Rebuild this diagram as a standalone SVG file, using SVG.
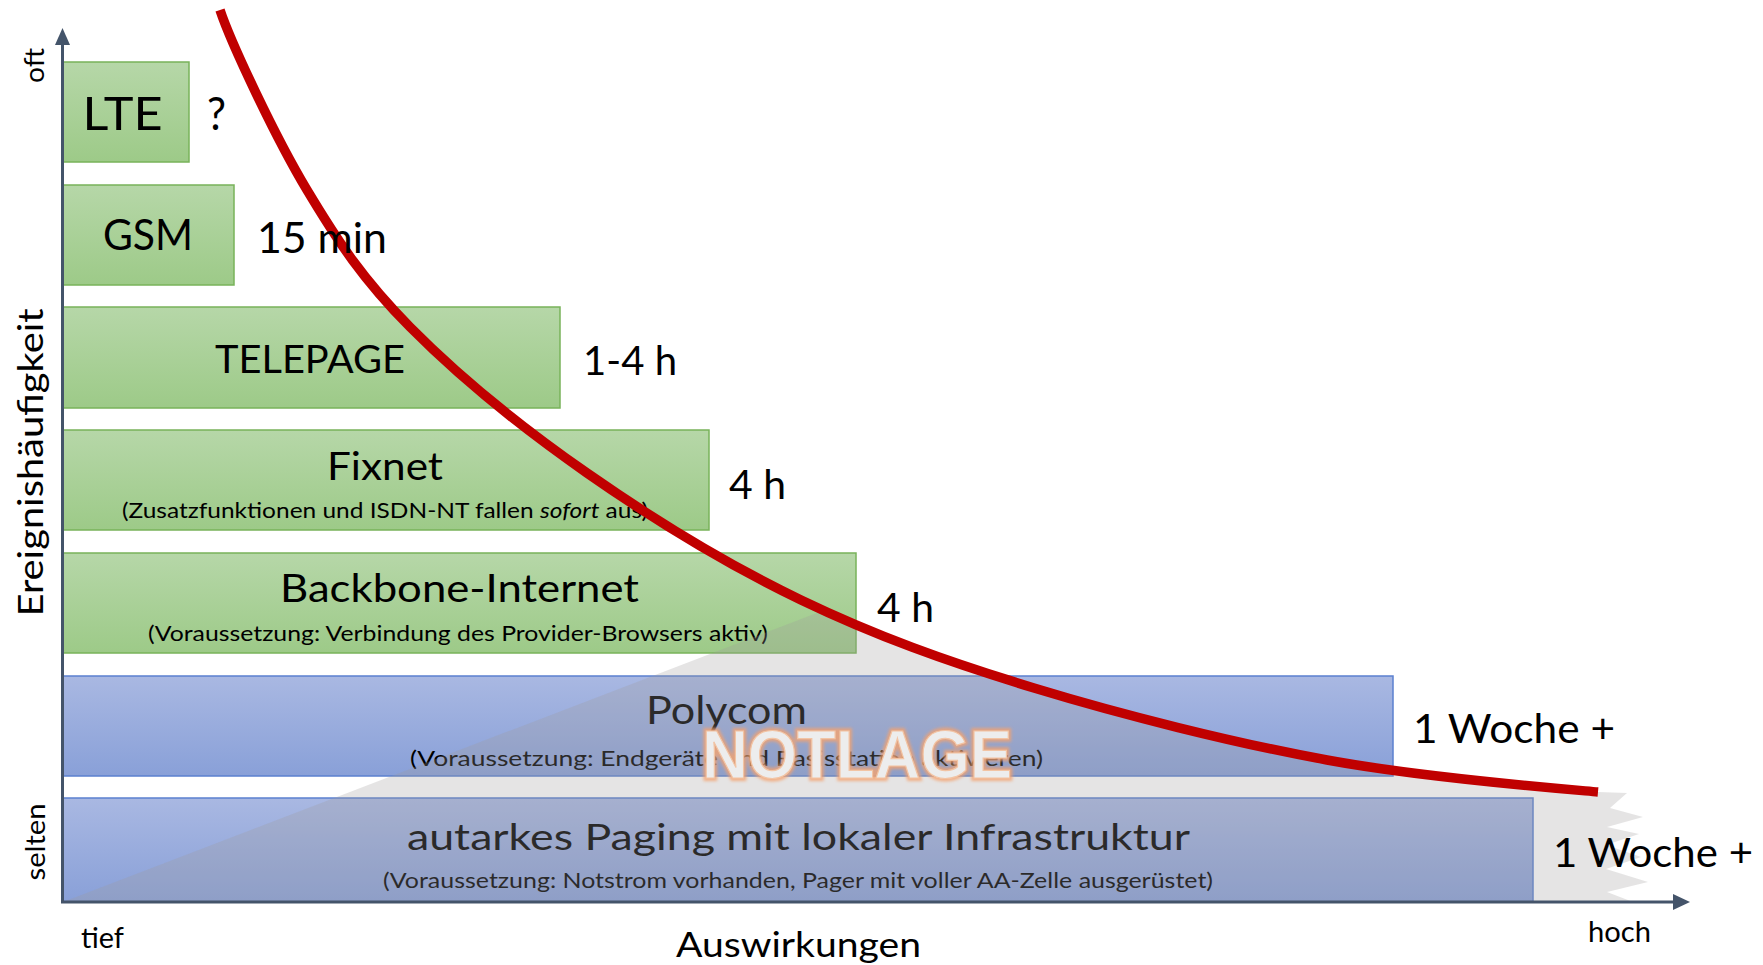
<svg xmlns="http://www.w3.org/2000/svg" width="1763" height="965" viewBox="0 0 1763 965">
<defs>
<linearGradient id="gGreen" x1="0" y1="0" x2="0" y2="1">
<stop offset="0" stop-color="#b6d7a8"/>
<stop offset="1" stop-color="#9dca88"/>
</linearGradient>
<linearGradient id="gBlue" x1="0" y1="0" x2="0" y2="1">
<stop offset="0" stop-color="#a9b8e2"/>
<stop offset="1" stop-color="#89a0d8"/>
</linearGradient>
<filter id="glow" x="-10%" y="-30%" width="120%" height="160%">
<feGaussianBlur stdDeviation="1.8"/>
</filter>
<style>
.bg{fill:url(#gGreen);stroke:#78b35a;stroke-width:1.5}
.bb{fill:url(#gBlue);stroke:#5b80cf;stroke-width:1.5}
.t{font-family:Lato,"Open Sans","Noto Sans",sans-serif;fill:#000}
.big{font-size:39px}
.sub{font-size:22px}
.time{font-size:41px}
.axl{font-size:27px}
.ax{stroke:#44546a;stroke-width:3;fill:none}
.axh{fill:#44546a}
.nl{font-family:"Liberation Sans",Arial,sans-serif;font-weight:bold;font-size:68px}
.nlglow{fill:none;stroke:#f4a36f;stroke-width:6;opacity:0.8}
.nlmain{fill:#ededed;stroke:#f2c4a4;stroke-width:1.2}
</style>
</defs>
<rect width="1763" height="965" fill="#ffffff"/>

<g id="node-lte">
<rect class="bg" x="63" y="62" width="126" height="100"/>
<text class="t" x="82.5" y="130" font-size="46" textLength="80" lengthAdjust="spacingAndGlyphs">LTE</text>
</g>
<g id="node-gsm">
<rect class="bg" x="63" y="185" width="171" height="100"/>
<text class="t" x="103" y="250" font-size="42" textLength="90" lengthAdjust="spacingAndGlyphs">GSM</text>
</g>
<g id="node-telepage">
<rect class="bg" x="63" y="307" width="497" height="101"/>
<text class="t big" x="215" y="373" textLength="190" lengthAdjust="spacingAndGlyphs">TELEPAGE</text>
</g>
<g id="node-fixnet">
<rect class="bg" x="63" y="430" width="646" height="100"/>
<text class="t big" x="327" y="480" textLength="116" lengthAdjust="spacingAndGlyphs">Fixnet</text>
<text class="t sub" x="122" y="518" textLength="526" lengthAdjust="spacingAndGlyphs">(Zusatzfunktionen und ISDN-NT fallen <tspan font-style="italic">sofort</tspan> aus)</text>
</g>
<g id="node-backbone">
<rect class="bg" x="63" y="553" width="793" height="100"/>
<text class="t big" x="280" y="602" textLength="359" lengthAdjust="spacingAndGlyphs">Backbone-Internet</text>
<text class="t sub" x="148" y="641" textLength="620" lengthAdjust="spacingAndGlyphs">(Voraussetzung: Verbindung des Provider-Browsers aktiv)</text>
</g>
<g id="node-polycom">
<rect class="bb" x="63" y="676" width="1330" height="100"/>
<text class="t" x="646" y="724" font-size="38" textLength="161" lengthAdjust="spacingAndGlyphs">Polycom</text>
<text class="t sub" x="410" y="766" textLength="633" lengthAdjust="spacingAndGlyphs">(Voraussetzung: Endgeräte und Basisstation aktivieren)</text>
</g>
<g id="node-autark">
<rect class="bb" x="63" y="798" width="1470" height="104"/>
<text class="t" x="407" y="850" font-size="36" textLength="783" lengthAdjust="spacingAndGlyphs">autarkes Paging mit lokaler Infrastruktur</text>
<text class="t sub" x="383" y="888" textLength="830" lengthAdjust="spacingAndGlyphs">(Voraussetzung: Notstrom vorhanden, Pager mit voller AA-Zelle ausgerüstet)</text>
</g>

<g id="notlage-zone">
<path d="M63,902 L823.3,610.5 C889.8,640.9 955.1,664 1034,688 C1121.7,714.7 1233,742.7 1327,760 C1421,777.3 1553,788 1598,792 L1627,793 L1610,808 L1643,817 L1607,827 L1639,834 L1606,845 L1641,857 L1606,869 L1648,882 L1607,892 L1633,902 Z" fill="#9f9d9d" fill-opacity="0.27"/>
<text class="nl nlglow" x="702" y="778" textLength="310" lengthAdjust="spacingAndGlyphs" filter="url(#glow)">NOTLAGE</text>
<text class="nl nlmain" x="702" y="778" textLength="310" lengthAdjust="spacingAndGlyphs">NOTLAGE</text>
</g>

<g id="connectors">
<path d="M220,10 C231,43 275.3,137.2 307,190 C338.7,242.8 363.3,279.8 410,327 C456.7,374.2 521.8,427.5 587,473 C652.2,518.5 726.5,564.2 801,600 C875.5,635.8 946.3,661.3 1034,688 C1121.7,714.7 1233,742.7 1327,760 C1421,777.3 1553,788 1598,792" fill="none" stroke="#c00000" stroke-width="9.5"/>
<line class="ax" x1="62.5" y1="903" x2="62.5" y2="42"/>
<polygon class="axh" points="62.5,28 55,45 70,45"/>
<line class="ax" x1="61" y1="902" x2="1675" y2="902"/>
<polygon class="axh" points="1690,902 1673,894 1673,910"/>
</g>

<g id="labels">
<text class="t" x="207" y="130" font-size="46" textLength="19" lengthAdjust="spacingAndGlyphs">?</text>
<text class="t" x="257" y="253" font-size="42" textLength="130" lengthAdjust="spacingAndGlyphs">15 min</text>
<text class="t time" x="583" y="375" textLength="94" lengthAdjust="spacingAndGlyphs">1-4 h</text>
<text class="t time" x="729" y="499" textLength="57" lengthAdjust="spacingAndGlyphs">4 h</text>
<text class="t time" x="877" y="622" textLength="57" lengthAdjust="spacingAndGlyphs">4 h</text>
<text class="t time" x="1413" y="743" textLength="202" lengthAdjust="spacingAndGlyphs">1 Woche +</text>
<text class="t time" x="1553" y="867" textLength="200" lengthAdjust="spacingAndGlyphs">1 Woche +</text>
<text class="t axl" transform="translate(44,65.5) rotate(-90)" text-anchor="middle" textLength="35" lengthAdjust="spacingAndGlyphs">oft</text>
<text class="t" transform="translate(43,462.5) rotate(-90)" text-anchor="middle" font-size="35" textLength="308" lengthAdjust="spacingAndGlyphs">Ereignishäufigkeit</text>
<text class="t" transform="translate(45,842) rotate(-90)" text-anchor="middle" font-size="26" textLength="77" lengthAdjust="spacingAndGlyphs">selten</text>
<text class="t" x="81" y="948" font-size="28" textLength="43" lengthAdjust="spacingAndGlyphs">tief</text>
<text class="t" x="1588" y="942" font-size="28" textLength="63" lengthAdjust="spacingAndGlyphs">hoch</text>
<text class="t" x="676" y="957" font-size="35" textLength="245" lengthAdjust="spacingAndGlyphs">Auswirkungen</text>
</g>
</svg>
